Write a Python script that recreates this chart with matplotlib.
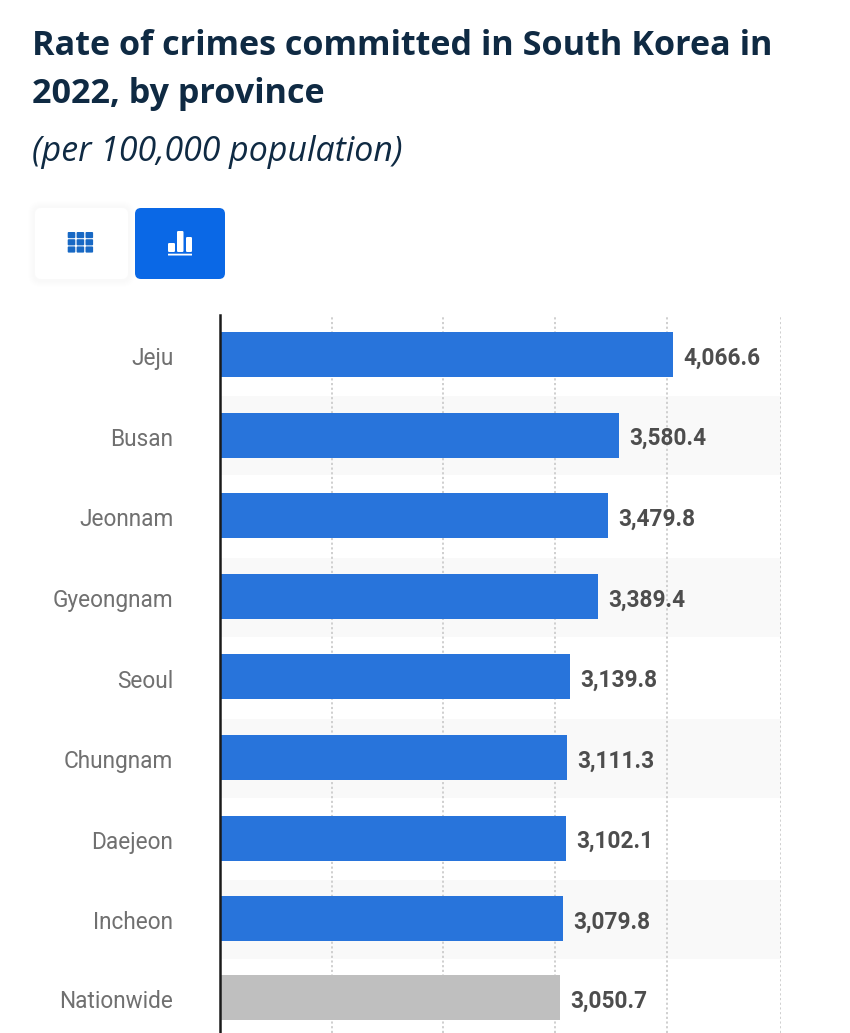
import matplotlib
matplotlib.use("Agg")
from matplotlib import pyplot as plt
from matplotlib.patches import FancyBboxPatch

provinces = ["Jeju", "Busan", "Jeonnam", "Gyeongnam", "Seoul", "Chungnam", "Daejeon", "Incheon", "Nationwide"]
rates = [4066.6, 3580.4, 3479.8, 3389.4, 3139.8, 3111.3, 3102.1, 3079.8, 3050.7]
grid_ticks = [1000, 2000, 3005, 4010, 5030]
W = 850
H = 1033

fig = plt.figure(figsize=(W / 100, H / 100), dpi=100, facecolor="white")

# pixel overlay for header and buttons
bg = fig.add_axes([0, 0, 1, 1])
bg.set_xlim(0, W)
bg.set_ylim(H, 0)
bg.axis("off")


def box(x, y, w, h, color, r=6, alpha=1):
    bg.add_patch(FancyBboxPatch((x, y), w, h, boxstyle=f"round,pad=0,rounding_size={r}", fc=color, ec="none", alpha=alpha))


navy = "#0f2a43"
bg.text(32, 46, "Rate of crimes committed in South Korea in", family="Open Sans", weight="bold",
        fontsize=24.6, color=navy, va="center")
bg.text(32, 94, "2022, by province", family="Open Sans", weight="bold", fontsize=24.6, color=navy, va="center")
bg.text(32, 152, "(per 100,000 population)", family="Open Sans", style="italic", fontsize=24.4, color=navy, va="center")

# table / chart toggle buttons
for i in range(6):
    box(33 - i, 206 - i, 97 + i * 2, 76 + i * 2, "#000000", r=8 + i, alpha=0.0035)
box(35, 208, 93, 71, "white")
box(135, 208, 90, 71, "#0a68e6")
for r in range(3):
    for c in range(3):
        box(67.7 + c * 8.9, 232 + r * 7.2, 7.6, 6.2, "#1768c4", r=1)
for x, top, wid in [(168, 243, 7), (177, 231, 6.5), (186, 237, 6)]:
    box(x, top, wid, 252 - top, "white", r=1.2)
box(168, 253.7, 24, 1.8, "white", r=0.2)

# chart, axis at 220 px, 0.1115 px per unit, rows 80.6 px tall
ax = fig.add_axes([220 / W, 0, 561 / W, (H - 315) / H])
ax.set_xlim(0, 5031)
ax.set_ylim(8.418, -0.49)
ax.patch.set_alpha(0)
for s in ["top", "right", "bottom"]:
    ax.spines[s].set_visible(False)
ax.spines["left"].set_color("#1a1a1a")
ax.spines["left"].set_linewidth(1.8)

for i in range(1, len(provinces), 2):
    ax.axhspan(i - 0.48, i + 0.5, color="#f9f9f9", lw=0, zorder=0)
for t in grid_ticks:
    ax.axvline(t, color="#cccccc", lw=1.3, ls=(0, (1.2, 1.4)), zorder=1)

# last row sits slightly closer in the picture
rows = list(range(len(provinces) - 1)) + [7.975]
colors = ["#2874db"] * (len(provinces) - 1) + ["#bfbfbf"]
ax.barh(rows, rates, height=0.56, color=colors, zorder=2)
for y, name, v in zip(rows, provinces, rates):
    ax.annotate(f"{v:,.1f}", (v, y), xytext=(7.2, -2.6), textcoords="offset points", family="Roboto", weight="bold",
                fontsize=16.3, color="#4d4d4d", va="center", zorder=3)
    ax.annotate(name, (0, y), xytext=(-33.6, -3), textcoords="offset points", family="Roboto", fontsize=16.3,
                color="#707070", va="center", ha="right", annotation_clip=False)

ax.set_yticks([])
ax.set_xticks([])

plt.savefig("out.png", dpi=100)
